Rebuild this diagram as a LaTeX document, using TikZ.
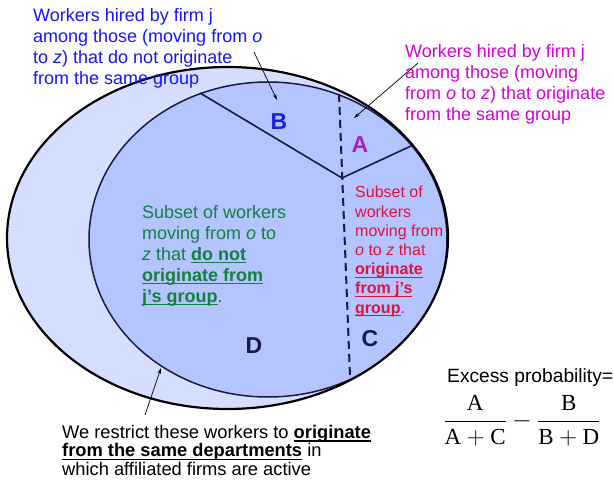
\documentclass[tikz,border=0pt]{standalone}
\usepackage{amsmath}
\usepackage{fontspec}
\setmainfont{Liberation Sans}
\newfontfamily\timesfont{Liberation Serif}
\usetikzlibrary{arrows.meta}

\definecolor{outerfill}{RGB}{214,222,255}
\definecolor{innerfill}{RGB}{180,196,255}
\definecolor{edgenavy}{RGB}{25,25,70}
\definecolor{txtblue}{RGB}{20,20,255}
\definecolor{txtmagenta}{RGB}{214,0,214}
\definecolor{txtred}{RGB}{220,20,60}
\definecolor{txtgreen}{RGB}{20,128,60}
\definecolor{letterA}{RGB}{170,30,200}
\definecolor{letterB}{RGB}{30,30,230}

\newsavebox{\ulbox}
\newcommand{\ulb}[1]{\sbox{\ulbox}{\textbf{#1}}\leavevmode\rlap{\rule[-3.3pt]{\wd\ulbox}{1.3pt}}\usebox{\ulbox}}
\newcommand{\tm}[1]{\text{\timesfont #1}}

\begin{document}
\begin{tikzpicture}[
  x=1pt, y=-1pt,
  >=Stealth,
  note/.style={anchor=base west, inner sep=0pt, align=left},
  bigtext/.style={font=\fontsize{18}{21}\selectfont},
  region/.style={font=\fontsize{23}{23}\selectfont\bfseries},
  pointer/.style={-{Stealth[length=6pt,width=3.5pt]}, line width=0.7pt},
  divider/.style={draw=edgenavy, line width=1.6pt},
]
\useasboundingbox (0,0) rectangle (613,481);

% Sets
\coordinate (outerC) at (227.5,238);
\coordinate (innerC) at (268,239.5);
\fill[outerfill] (outerC) ellipse [x radius=220.5pt, y radius=171pt];
\begin{scope}
  \clip (outerC) ellipse [x radius=220.5pt, y radius=171pt];
  \fill[innerfill] (innerC) ellipse [x radius=179pt, y radius=157.5pt];
  \draw[edgenavy, line width=1.5pt] (innerC) ellipse [x radius=179pt, y radius=157.5pt];
\end{scope}

% Dividers
\coordinate (bTop) at (200,93);
\coordinate (hub) at (342,178);
\coordinate (aEdge) at (411,146);
\coordinate (dashTop) at (339,94);
\coordinate (dashEnd) at (350,376);
\draw[divider] (bTop) -- (hub) -- (aEdge);
\draw[divider, line width=2pt, dash pattern=on 8pt off 5pt] (dashTop) -- (dashEnd);
\draw[black, line width=2.2pt] (outerC) ellipse [x radius=220.5pt, y radius=171pt];

% Region letters
\node[region, text=letterB] (labB) at (279,122) {B};
\node[region, text=letterA] (labA) at (360,145) {A};
\node[region, text=edgenavy] (labC) at (370,339) {C};
\node[region, text=edgenavy] (labD) at (254,346) {D};

% Notes (anchored at the baseline of their last line)
\node[note, bigtext, text=txtblue] (hireB) at (33,85)
  {Workers hired by firm j\\among those (moving from \textit{o}\\to \textit{z}) that do not originate\\from the same group};
\node[note, bigtext, text=txtmagenta] (hireA) at (405,121)
  {Workers hired by firm j\\among those (moving\\from \textit{o} to \textit{z}) that originate\\from the same group};
\node[note, font=\fontsize{16}{19.2}\selectfont, text=txtred] (subC) at (355,313)
  {Subset of\\workers\\moving from\\\textit{o} to \textit{z} that\\\ulb{originate}\\\ulb{from j’s}\\\ulb{group}.};
\node[note, bigtext, text=txtgreen] (subD) at (142,302)
  {Subset of workers\\moving from \textit{o} to\\\textit{z} that \ulb{do not}\\\ulb{originate from}\\\ulb{j’s group}.};
\node[note, font=\fontsize{18.3}{18.3}\selectfont] (restrict) at (62,475)
  {We restrict these workers to \ulb{originate}\\\ulb{from the same departments} in\\which affiliated firms are active};

% Formula
\node[note, font=\fontsize{19.2}{21}\selectfont] (excess) at (447,382) {Excess probability=};
\node[inner sep=0pt, font=\fontsize{23}{27}\selectfont] (ratio) at (522,421)
  {$\displaystyle\frac{\tm{A}}{\tm{A}+\tm{C}}-\frac{\tm{B}}{\tm{B}+\tm{D}}$};

% Pointers
\coordinate (bTail) at (254,52);
\coordinate (bTip) at (277,100);
\coordinate (aTail) at (418,63);
\coordinate (aTip) at (354,118);
\coordinate (rTail) at (145,415);
\coordinate (rTip) at (161,368);
\draw[pointer] (bTail) -- (bTip);
\draw[pointer] (aTail) -- (aTip);
\draw[pointer] (rTail) -- (rTip);

\end{tikzpicture}
\end{document}
